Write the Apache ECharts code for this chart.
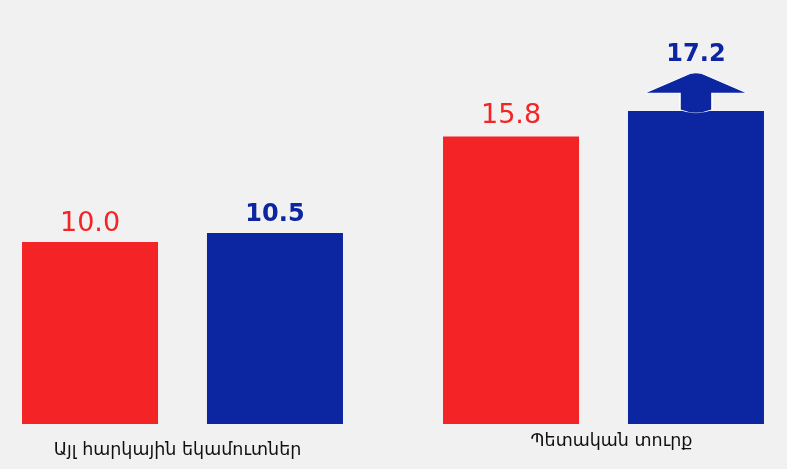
<!DOCTYPE html>
<html>
<head>
<meta charset="utf-8">
<script src="https://cdn.jsdelivr.net/npm/echarts@6/dist/echarts.min.js"></script>
<style>
    html, body { margin: 0; padding: 0; overflow: hidden; background: #f1f1f1; }
    #chart { width: 842px; height: 469px; margin-left: -28px; }
</style>
</head>
<body>
<div id="chart"></div>
<script>
// կատեգորիաներ և արժեքներ
const categories = ['Այլ հարկային եկամուտներ', 'Պետական տուրք']
const redValues = [10.0, 15.8]
const blueValues = [10.5, 17.2]

const RED = '#f42426'
const BLUE = '#0b26a0'

// սլաքի ձևը կապույտ սյան վրա
const arrowPath = 'path://M0,19 L44,1 Q51,-1 58,1 L102,19 L67,19 L67,35 Q51,41 35,35 L35,19 Z'

let chart = echarts.init(document.getElementById('chart'))

// պիտակների հեռավորությունը սյան գագաթից
const redDist = [5, 7]
const blueDist = [6, 44]

chart.setOption({
    backgroundColor: '#f1f1f1',
    animation: false,
    grid: { left: 0, right: 0, top: 60, bottom: 45, containLabel: false },
    xAxis: {
        type: 'category',
        data: categories,
        axisLine: { show: false },
        axisTick: { show: false },
        axisLabel: {
            margin: 8,
            formatter: (v, i) => i == 0 ? '{a|' + v + '}' : '{b|' + v + '}',
            rich: {
                a: { fontFamily: 'DejaVu Sans', fontSize: 17.5, color: '#111', padding: [9, 10, 0, 0] },
                b: { fontFamily: 'DejaVu Sans', fontSize: 17.5, color: '#111', padding: [0, 0, 0, 16] }
            }
        }
    },
    yAxis: {
        type: 'value',
        min: 0,
        max: 20,
        show: false,
        splitLine: { show: false }
    },
    series: [
        {
            type: 'bar',
            barWidth: 136,
            barGap: '36%',
            itemStyle: { color: RED },
            data: redValues.map((v, i) => ({
                value: v,
                label: { distance: redDist[i] }
            })),
            label: {
                show: true,
                position: 'top',
                color: RED,
                fontFamily: 'DejaVu Sans',
                fontSize: 27,
                formatter: p => p.value.toFixed(1)
            }
        },
        {
            type: 'bar',
            barWidth: 136,
            itemStyle: { color: BLUE },
            data: blueValues.map((v, i) => ({
                value: v,
                label: { distance: blueDist[i] }
            })),
            label: {
                show: true,
                position: 'top',
                color: BLUE,
                fontFamily: 'DejaVu Sans',
                fontWeight: 'bold',
                fontSize: 24,
                formatter: p => p.value.toFixed(1)
            },
            markPoint: {
                symbol: arrowPath,
                symbolSize: [102, 40],
                symbolKeepAspect: false,
                itemStyle: { color: BLUE, borderColor: '#fff', borderWidth: 1 },
                label: { show: false },
                data: [{ coord: [1, blueValues[1]], symbolOffset: [0, -18] }]
            }
        }
    ]
})
</script>
</body>
</html>
